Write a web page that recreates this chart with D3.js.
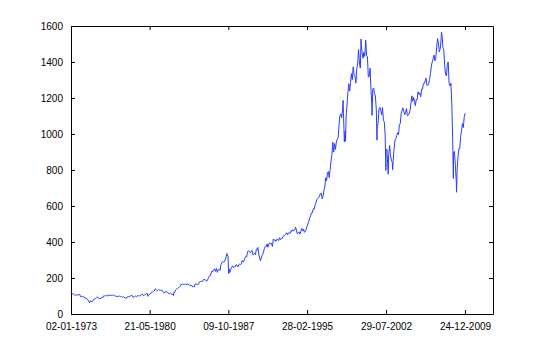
<!DOCTYPE html>
<html>
<head>
<meta charset="utf-8">
<script src="https://cdn.jsdelivr.net/npm/d3@7"></script>
<style>
    body { margin: 0; background: #fff; }
    text { font-family: "Liberation Sans", Arial, sans-serif; font-size: 10px; fill: #000; }
</style>
</head>
<body>
<div id="chart"></div>
<script>
// S&P 500, monthly closes Jan 1973 .. Dec 2009
const startYear = 1973;
const monthlyClose = [
    116.03, 111.68, 111.52, 106.97, 104.95, 104.26, 108.22, 104.25, 108.43, 108.29, 95.96, 97.55,
    96.57, 96.22, 93.98, 90.31, 87.28, 86.00, 79.31, 72.15, 63.54, 73.90, 69.97, 68.56,
    76.98, 81.59, 83.36, 87.30, 91.15, 95.19, 88.75, 86.88, 83.87, 89.04, 91.24, 90.19,
    100.86, 99.71, 102.77, 101.64, 100.18, 104.28, 103.44, 102.91, 105.24, 102.90, 102.10, 107.46,
    102.03, 99.82, 98.42, 98.44, 96.12, 100.48, 98.85, 96.77, 96.53, 92.34, 94.83, 95.10,
    89.25, 87.04, 89.21, 96.83, 97.24, 95.53, 100.68, 103.29, 102.54, 93.15, 94.70, 96.11,
    99.93, 96.28, 101.59, 101.76, 99.08, 102.91, 103.81, 109.32, 109.32, 101.82, 106.16, 107.94,
    114.16, 113.66, 102.09, 106.29, 111.24, 114.24, 121.67, 122.38, 125.46, 127.47, 140.52, 135.76,
    129.55, 131.27, 136.00, 132.81, 132.59, 131.21, 130.92, 122.79, 116.18, 121.89, 126.35, 122.55,
    120.40, 113.11, 111.96, 116.44, 111.88, 109.61, 107.09, 119.51, 120.42, 133.71, 138.54, 140.64,
    145.30, 148.06, 152.96, 164.42, 162.39, 168.11, 162.56, 164.40, 166.07, 163.55, 166.40, 164.93,
    163.41, 157.06, 159.18, 160.05, 150.55, 153.18, 150.66, 166.68, 166.10, 166.09, 163.58, 167.24,
    179.63, 181.18, 180.66, 179.83, 189.55, 191.85, 190.92, 188.63, 182.08, 189.82, 202.17, 211.28,
    211.78, 226.92, 238.90, 235.52, 247.35, 250.84, 236.12, 252.93, 231.32, 243.98, 249.22, 242.17,
    274.08, 284.20, 291.70, 288.36, 290.10, 304.00, 318.66, 329.80, 321.83, 251.79, 230.30, 247.08,
    257.07, 267.82, 258.89, 261.33, 262.16, 273.50, 272.02, 261.52, 271.91, 278.97, 273.70, 277.72,
    297.47, 288.86, 294.87, 309.64, 320.52, 317.98, 346.08, 351.45, 349.15, 340.36, 345.99, 353.40,
    329.08, 331.89, 339.94, 330.80, 361.23, 358.02, 356.15, 322.56, 306.05, 304.00, 322.22, 330.22,
    343.93, 367.07, 375.22, 375.35, 389.83, 371.16, 387.81, 395.43, 387.86, 392.46, 375.22, 417.09,
    408.79, 412.70, 403.69, 414.95, 415.35, 408.14, 424.21, 414.03, 417.80, 418.68, 431.35, 435.71,
    438.78, 443.38, 451.67, 440.19, 450.19, 450.53, 448.13, 463.56, 458.93, 467.83, 461.79, 466.45,
    481.61, 467.14, 445.77, 450.91, 456.50, 444.27, 458.26, 475.49, 462.69, 472.35, 453.69, 459.27,
    470.42, 487.39, 500.71, 514.71, 533.40, 544.75, 562.06, 561.88, 584.41, 581.50, 605.37, 615.93,
    636.02, 640.43, 645.50, 654.17, 669.12, 670.63, 639.95, 651.99, 687.31, 705.27, 757.02, 740.74,
    786.16, 790.82, 757.12, 801.34, 848.28, 885.14, 954.29, 899.47, 947.28, 914.62, 955.40, 970.43,
    980.28, 1049.34, 1101.75, 1111.75, 1090.82, 1133.84, 1120.67, 957.28, 1017.01, 1098.67, 1163.63, 1229.23,
    1279.64, 1238.33, 1286.37, 1335.18, 1301.84, 1372.71, 1328.72, 1320.41, 1282.71, 1362.93, 1388.91, 1469.25,
    1394.46, 1366.42, 1498.58, 1452.43, 1420.60, 1454.60, 1430.83, 1517.68, 1436.51, 1429.40, 1314.95, 1320.28,
    1366.01, 1239.94, 1160.33, 1249.46, 1255.82, 1224.38, 1211.23, 1133.58, 1040.94, 1059.78, 1139.45, 1148.08,
    1130.20, 1106.73, 1147.39, 1076.92, 1067.14, 989.82, 911.62, 916.07, 815.28, 885.76, 936.31, 879.82,
    855.70, 841.15, 848.18, 916.92, 963.59, 974.50, 990.31, 1008.01, 995.97, 1050.71, 1058.20, 1111.92,
    1131.13, 1144.94, 1126.21, 1107.30, 1120.68, 1140.84, 1101.72, 1104.24, 1114.58, 1130.20, 1173.82, 1211.92,
    1181.27, 1203.60, 1180.59, 1156.85, 1191.50, 1191.33, 1234.18, 1220.33, 1228.81, 1207.01, 1249.48, 1248.29,
    1280.08, 1280.66, 1294.87, 1310.61, 1270.09, 1270.20, 1276.66, 1303.82, 1335.85, 1377.94, 1400.63, 1418.30,
    1438.24, 1406.82, 1420.86, 1482.37, 1530.62, 1503.35, 1455.27, 1473.99, 1526.75, 1549.38, 1481.14, 1468.36,
    1378.55, 1330.63, 1322.70, 1385.59, 1400.38, 1280.00, 1267.38, 1282.83, 1166.36, 968.75, 896.24, 903.25,
    825.88, 735.09, 797.87, 872.81, 919.14, 919.32, 987.48, 1020.62, 1057.08, 1036.19, 1095.63, 1115.10
];

// intra-month highs / lows that show up in the daily series
const extremeDates = [
    '1973-01-11', '1974-10-03', '1980-03-27', '1980-11-28', '1982-08-12', '1987-08-25', '1987-10-19',
    '1990-07-16', '1990-10-11', '1998-07-17', '1998-10-08', '2000-03-24', '2000-09-01', '2001-04-04',
    '2001-09-21', '2002-07-23', '2002-10-09', '2003-03-11', '2007-10-09', '2008-11-20', '2009-03-09'
];
const extremeValues = [
    120.24, 62.28, 98.22, 140.52, 102.42, 336.77, 224.84,
    369.78, 295.46, 1186.75, 959.44, 1527.46, 1520.77, 1103.25,
    965.80, 797.70, 776.76, 800.73, 1565.15, 752.44, 676.53
];

const firstDate = '1973-01-02';
const firstValue = 116.90;
const lastDate = '2009-12-31';
const lastValue = 1115.10;

const xTickDates = ['1973-01-02', '1980-05-21', '1987-10-09', '1995-02-28', '2002-07-29', '2009-12-24'];
const yTicks = [0, 200, 400, 600, 800, 1000, 1200, 1400, 1600];

const parse = d3.timeParse('%Y-%m-%d');
const fmt = d3.timeFormat('%d-%m-%Y');

let data = monthlyClose.map((v, i) => ({
    date: new Date(startYear + Math.floor(i / 12), i % 12, 28),
    value: v
}));
extremeDates.forEach((d, i) => data.push({ date: parse(d), value: extremeValues[i] }));
data.push({ date: parse(firstDate), value: firstValue });
data.push({ date: parse(lastDate), value: lastValue });
data.sort((a, b) => a.date - b.date);

const width = 545;
const height = 354;
const margin = { top: 26, right: 52, bottom: 40, left: 71 };

const x = d3.scaleTime()
    .domain([parse('1973-01-02'), parse('2012-08-10')])
    .range([margin.left, width - margin.right]);

const y = d3.scaleLinear()
    .domain([0, 1600])
    .range([height - margin.bottom, margin.top]);

const svg = d3.select('#chart')
    .append('svg')
    .attr('width', width)
    .attr('height', height);

const tickVals = xTickDates.map(parse);

// bottom axis, ticks point inward
svg.append('g')
    .attr('transform', `translate(0,${height - margin.bottom})`)
    .call(d3.axisBottom(x).tickValues(tickVals).tickFormat(fmt).tickSizeInner(-4).tickSizeOuter(0).tickPadding(9));

// top axis, no labels
svg.append('g')
    .attr('transform', `translate(0,${margin.top})`)
    .call(d3.axisTop(x).tickValues(tickVals).tickFormat('').tickSizeInner(-4).tickSizeOuter(0));

// left axis
svg.append('g')
    .attr('transform', `translate(${margin.left},0)`)
    .call(d3.axisLeft(y).tickValues(yTicks).tickFormat(d3.format('d')).tickSizeInner(-4).tickSizeOuter(0).tickPadding(8));

// right axis, no labels
svg.append('g')
    .attr('transform', `translate(${width - margin.right},0)`)
    .call(d3.axisRight(y).tickValues(yTicks).tickFormat('').tickSizeInner(-4).tickSizeOuter(0));

svg.selectAll('.tick text').attr('font-family', null).attr('font-size', null);

const line = d3.line()
    .x(d => x(d.date))
    .y(d => y(d.value));

svg.append('path')
    .datum(data)
    .attr('fill', 'none')
    .attr('stroke', '#2a3cff')
    .attr('stroke-width', 1)
    .attr('d', line);
</script>
</body>
</html>
